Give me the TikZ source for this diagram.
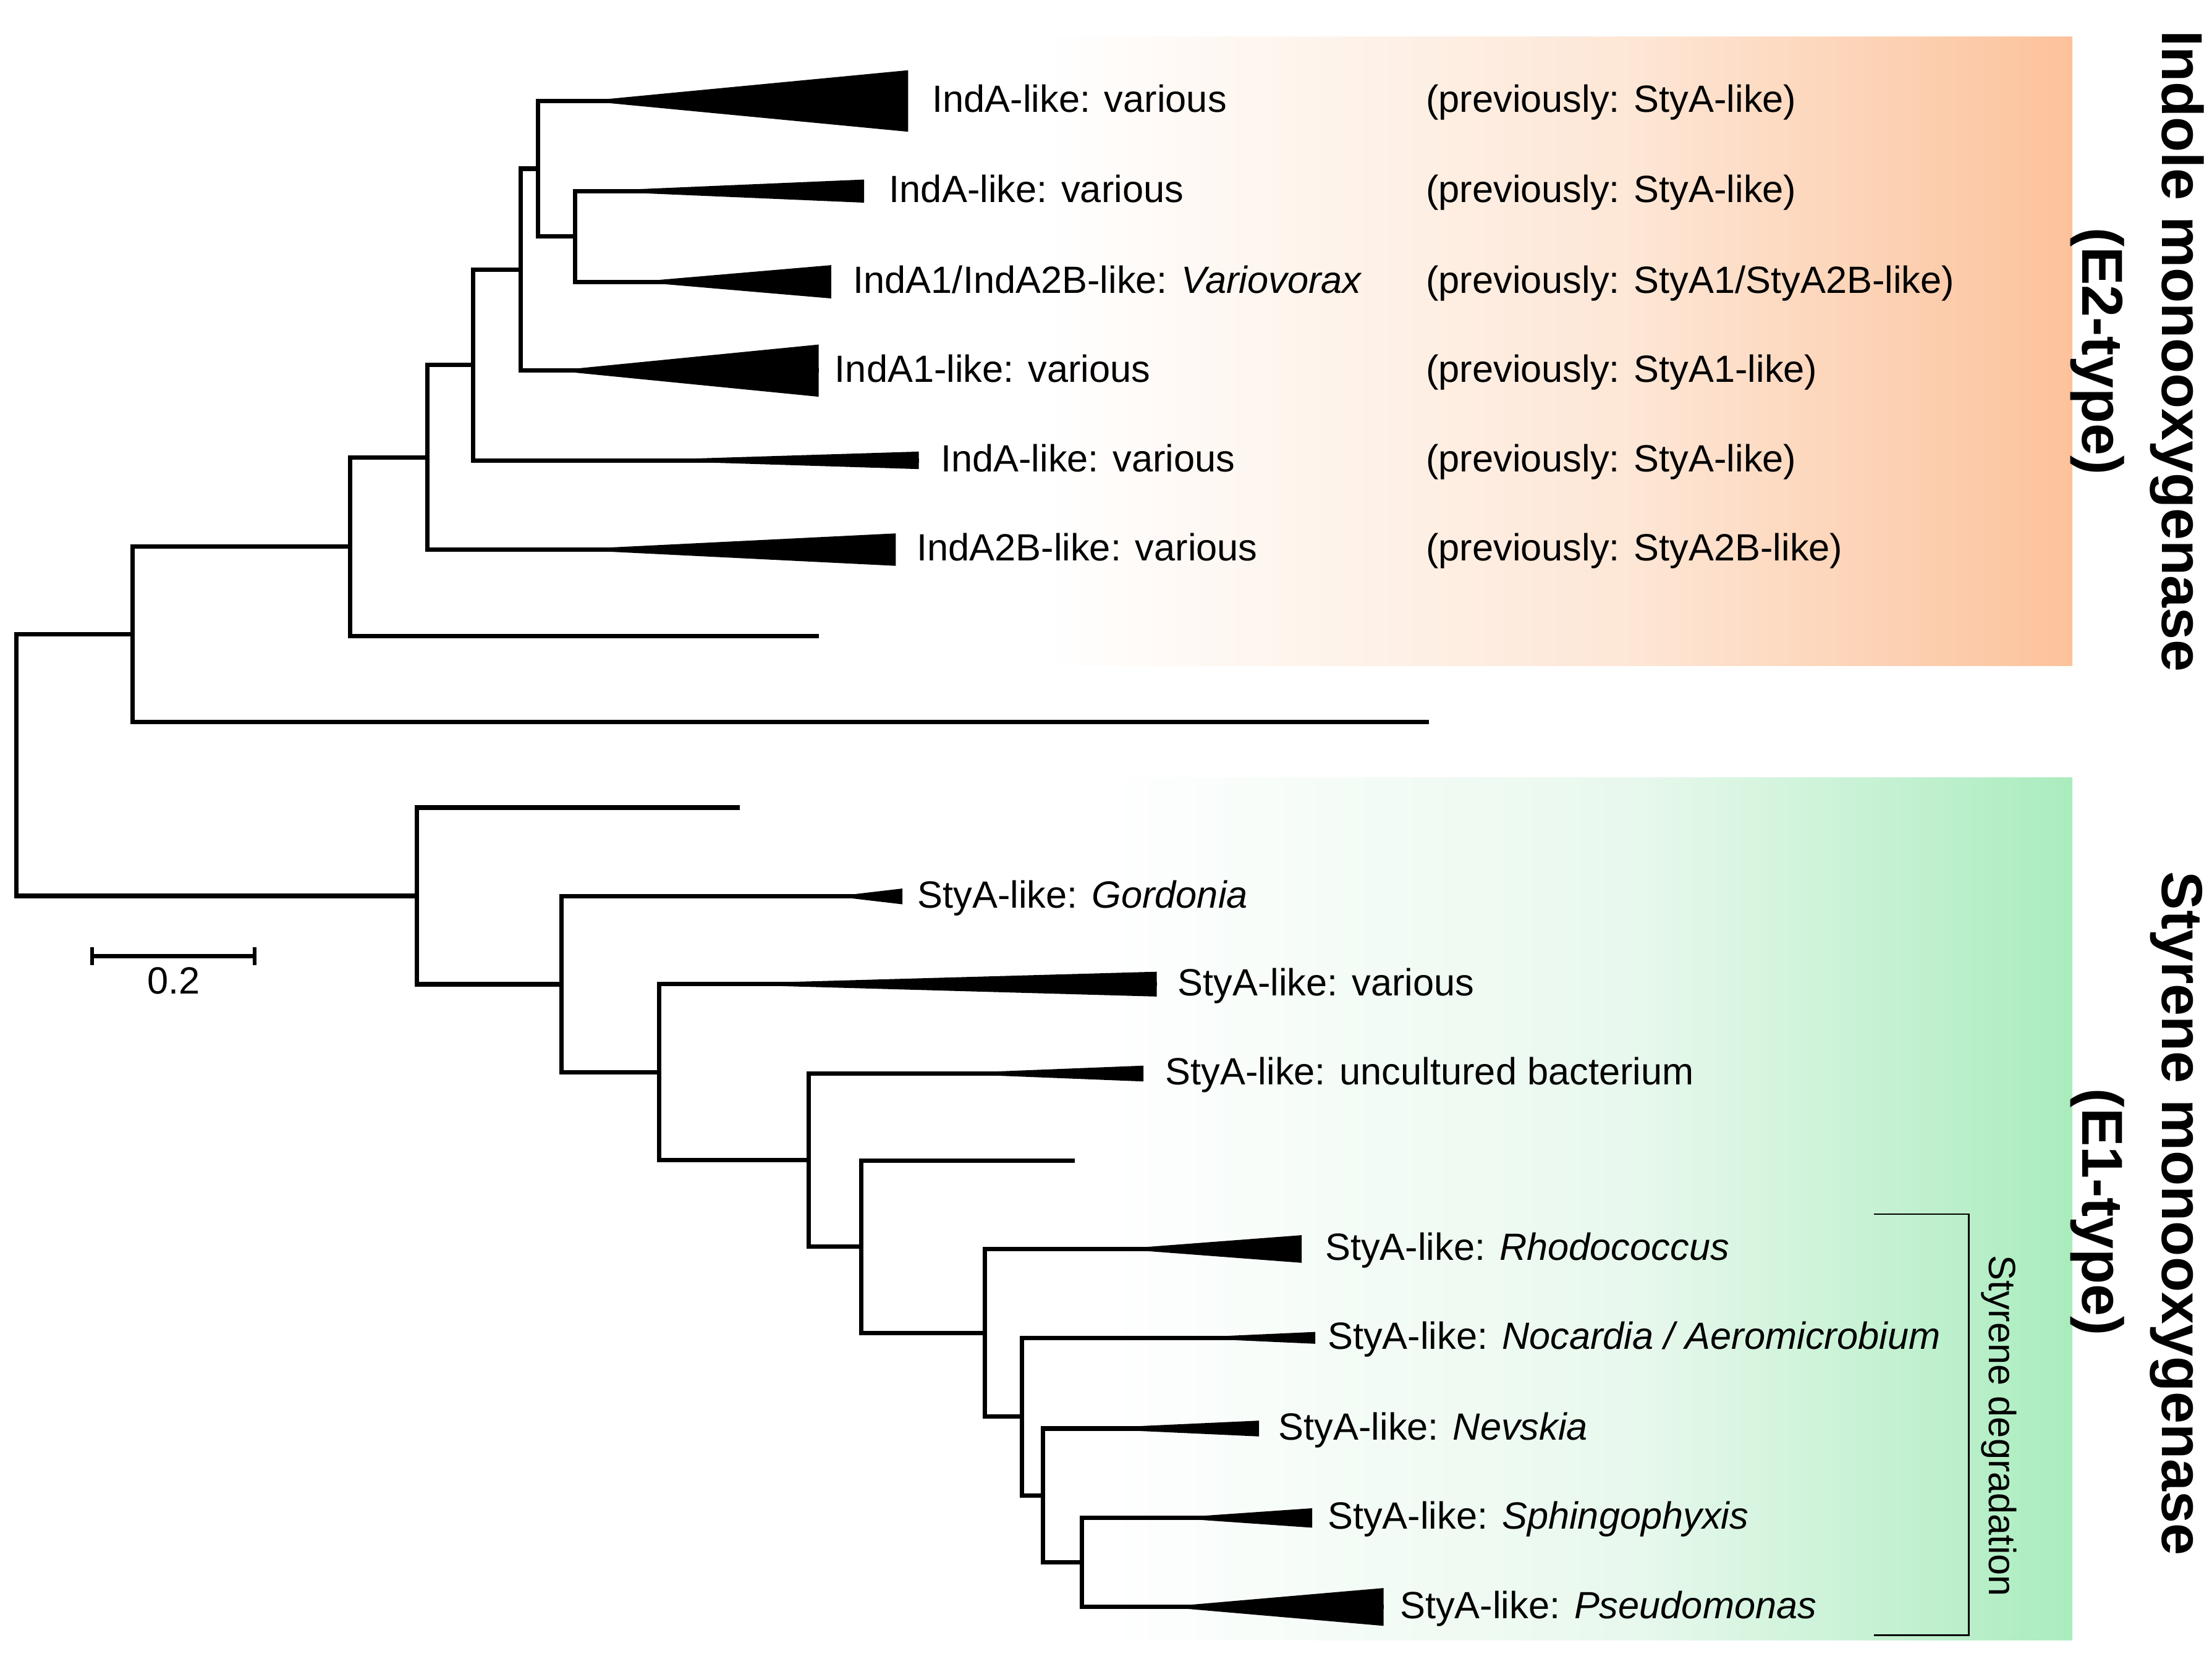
\documentclass[tikz,border=0pt]{standalone}
\usepackage{fontspec}
\setmainfont{Liberation Sans}
\definecolor{orA}{RGB}{253,230,213}
\definecolor{orB}{RGB}{252,194,155}
\definecolor{grA}{RGB}{232,248,237}
\definecolor{grB}{RGB}{170,236,190}
\begin{document}
\begin{tikzpicture}[x=0.2mm,y=-0.2mm,
  br/.style={line width=1.75pt,line join=miter},
  lbl/.style={anchor=base west,inner sep=0pt,font=\fontsize{15.3}{18}\selectfont},
  ttl/.style={anchor=base,inner sep=0pt,rotate=-90,font=\fontsize{23.3}{28}\selectfont\bfseries}]
\useasboundingbox (0,0) rectangle (1568,1176);
% backgrounds
\shade[left color=white,right color=orA] (740,26) rectangle (1162,472);
\shade[left color=orA,right color=orB] (1161,26) rectangle (1469,472);
\shade[left color=white,right color=grA] (771,551.4) rectangle (1162,1163);
\shade[left color=grA,right color=grB] (1161,551.4) rectangle (1469,1163);
% coordinates, upper tree
\coordinate (r) at (11.5,542.5);
\coordinate (a1) at (93.9,449.8);
\coordinate (a2) at (248,387.6);
\coordinate (a3) at (303,324.25);
\coordinate (a4) at (335.3,258.8);
\coordinate (a5) at (369.3,191.2);
\coordinate (a6) at (381.3,119.6);
\coordinate (a7) at (407.7,167.65);
\coordinate (t1) at (643.7,71.6);
\coordinate (t2) at (612.5,135.5);
\coordinate (t3) at (589.2,199.8);
\coordinate (t4) at (580.3,262.8);
\coordinate (t5) at (651.3,326.4);
\coordinate (t6) at (635,389.7);
\coordinate (e1) at (580.3,450.9);
\coordinate (e2) at (1013,512);
% lower tree
\coordinate (b1) at (295.7,635.25);
\coordinate (b2) at (398.2,697.9);
\coordinate (b3) at (467.2,760.2);
\coordinate (b4) at (573.3,822.6);
\coordinate (b5) at (610.5,884.0);
\coordinate (b6) at (698,945.05);
\coordinate (b7) at (724.6,1004.5);
\coordinate (b8) at (739.5,1060.4);
\coordinate (b9) at (767.1,1107.85);
\coordinate (e3) at (524.5,572.6);
\coordinate (s1) at (639.7,635.6);
\coordinate (s2) at (820,697.8);
\coordinate (s3) at (810.6,761.2);
\coordinate (e4) at (761.8,823);
\coordinate (s4) at (922.7,885.6);
\coordinate (s5) at (932.3,948.6);
\coordinate (s6) at (892.5,1012.9);
\coordinate (s7) at (930.2,1076.3);
\coordinate (s8) at (980.8,1139.4);
% branches
\draw[br] (r) |- (a1); \draw[br] (r) |- (b1);
\draw[br] (a1) |- (a2); \draw[br] (a1) |- (e2);
\draw[br] (a2) |- (a3); \draw[br] (a2) |- (e1);
\draw[br] (a3) |- (a4); \draw[br] (a3) |- (t6);
\draw[br] (a4) |- (a5); \draw[br] (a4) |- (t5);
\draw[br] (a5) |- (a6); \draw[br] (a5) |- (t4);
\draw[br] (a6) |- (t1); \draw[br] (a6) |- (a7);
\draw[br] (a7) |- (t2); \draw[br] (a7) |- (t3);
\draw[br] (b1) |- (e3); \draw[br] (b1) |- (b2);
\draw[br] (b2) |- (s1); \draw[br] (b2) |- (b3);
\draw[br] (b3) |- (s2); \draw[br] (b3) |- (b4);
\draw[br] (b4) |- (s3); \draw[br] (b4) |- (b5);
\draw[br] (b5) |- (e4); \draw[br] (b5) |- (b6);
\draw[br] (b6) |- (s4); \draw[br] (b6) |- (b7);
\draw[br] (b7) |- (s5); \draw[br] (b7) |- (b8);
\draw[br] (b8) |- (s6); \draw[br] (b8) |- (b9);
\draw[br] (b9) |- (s7); \draw[br] (b9) |- (s8);
% collapsed clades (apex -> base at the leaf coordinate)
\fill (t1) ++(-227.7,0) -- ++(227.7,-21.8) -- ++(0,43.6) -- cycle;
\fill (t2) ++(-192.5,0) -- ++(192.5,-8.2) -- ++(0,16.4) -- cycle;
\fill (t3) ++(-137.7,0) -- ++(137.7,-11.8) -- ++(0,23.6) -- cycle;
\fill (t4) ++(-186.9,0) -- ++(186.9,-18.5) -- ++(0,37) -- cycle;
\fill (t5) ++(-200.3,0) -- ++(200.3,-6.2) -- ++(0,12.4) -- cycle;
\fill (t6) ++(-233,0) -- ++(233,-11.5) -- ++(0,23) -- cycle;
\fill (s1) ++(-47.7,0) -- ++(47.7,-5.6) -- ++(0,11.2) -- cycle;
\fill (s2) ++(-316,0) -- ++(316,-8.8) -- ++(0,17.6) -- cycle;
\fill (s3) ++(-141.6,0) -- ++(141.6,-5.6) -- ++(0,11.2) -- cycle;
\fill (s4) ++(-129,0) -- ++(129,-9.8) -- ++(0,19.6) -- cycle;
\fill (s5) ++(-93.3,0) -- ++(93.3,-4.2) -- ++(0,8.4) -- cycle;
\fill (s6) ++(-122.5,0) -- ++(122.5,-5.6) -- ++(0,11.2) -- cycle;
\fill (s7) ++(-99.2,0) -- ++(99.2,-6.9) -- ++(0,13.8) -- cycle;
\fill (s8) ++(-154.8,0) -- ++(154.8,-13.4) -- ++(0,26.8) -- cycle;
% labels upper
\node[lbl] (l1) at (660.5,79.6) {IndA-like: various};
\node[lbl] (l2) at (630,143.5) {IndA-like: various};
\node[lbl] (l3) at (604.5,207.8) {IndA1/IndA2B-like: \textit{Variovorax}};
\node[lbl] (l4) at (591.5,270.8) {IndA1-like: various};
\node[lbl] (l5) at (666.5,334.4) {IndA-like: various};
\node[lbl] (l6) at (649.5,397.7) {IndA2B-like: various};
\node[lbl] (p1) at (1010.5,79.6) {(previously: StyA-like)};
\node[lbl] (p2) at (1010.5,143.5) {(previously: StyA-like)};
\node[lbl] (p3) at (1010.5,207.8) {(previously: StyA1/StyA2B-like)};
\node[lbl] (p4) at (1010.5,270.8) {(previously: StyA1-like)};
\node[lbl] (p5) at (1010.5,334.4) {(previously: StyA-like)};
\node[lbl] (p6) at (1010.5,397.7) {(previously: StyA2B-like)};
% labels lower
\node[lbl] (m1) at (650,643.6) {StyA-like: \textit{Gordonia}};
\node[lbl] (m2) at (834.5,705.8) {StyA-like: various};
\node[lbl] (m3) at (825.8,769.2) {StyA-like: uncultured bacterium};
\node[lbl] (m4) at (939,893.6) {StyA-like: \textit{Rhodococcus}};
\node[lbl] (m5) at (940.8,956.6) {StyA-like: \textit{Nocardia / Aeromicrobium}};
\node[lbl] (m6) at (906,1020.9) {StyA-like: \textit{Nevskia}};
\node[lbl] (m7) at (940.8,1084.3) {StyA-like: \textit{Sphingophyxis}};
\node[lbl] (m8) at (992,1147.4) {StyA-like: \textit{Pseudomonas}};
% scale bar
\coordinate (sb1) at (65.3,677.9);
\coordinate (sb2) at (180.5,677.9);
\draw[br] (sb1) -- (sb2);
\draw[line width=1.4pt] ([yshift=1.25mm]sb1) -- ([yshift=-1.25mm]sb1);
\draw[line width=1.4pt] ([yshift=1.25mm]sb2) -- ([yshift=-1.25mm]sb2);
\node[lbl,anchor=base] (sbl) at (123,704.5) {0.2};
% bracket
\coordinate (k1) at (1328.4,860.9);
\coordinate (kv) at (1395.5,1010);
\coordinate (k2) at (1328.4,1159.3);
\draw[line width=0.7pt] (k1) -| (kv) |- (k2);
\node[lbl,anchor=base,rotate=-90] (sd) at (1410,1011) {Styrene degradation};
% titles
\node[ttl] (ind) at (1532.5,249) {Indole monooxygenase};
\node[ttl] (ind2) at (1476,249) {(E2-type)};
\node[ttl] (sty) at (1532.5,860.5) {Styrene monooxygenase};
\node[ttl] (sty2) at (1476,859.5) {(E1-type)};
\end{tikzpicture}
\end{document}
